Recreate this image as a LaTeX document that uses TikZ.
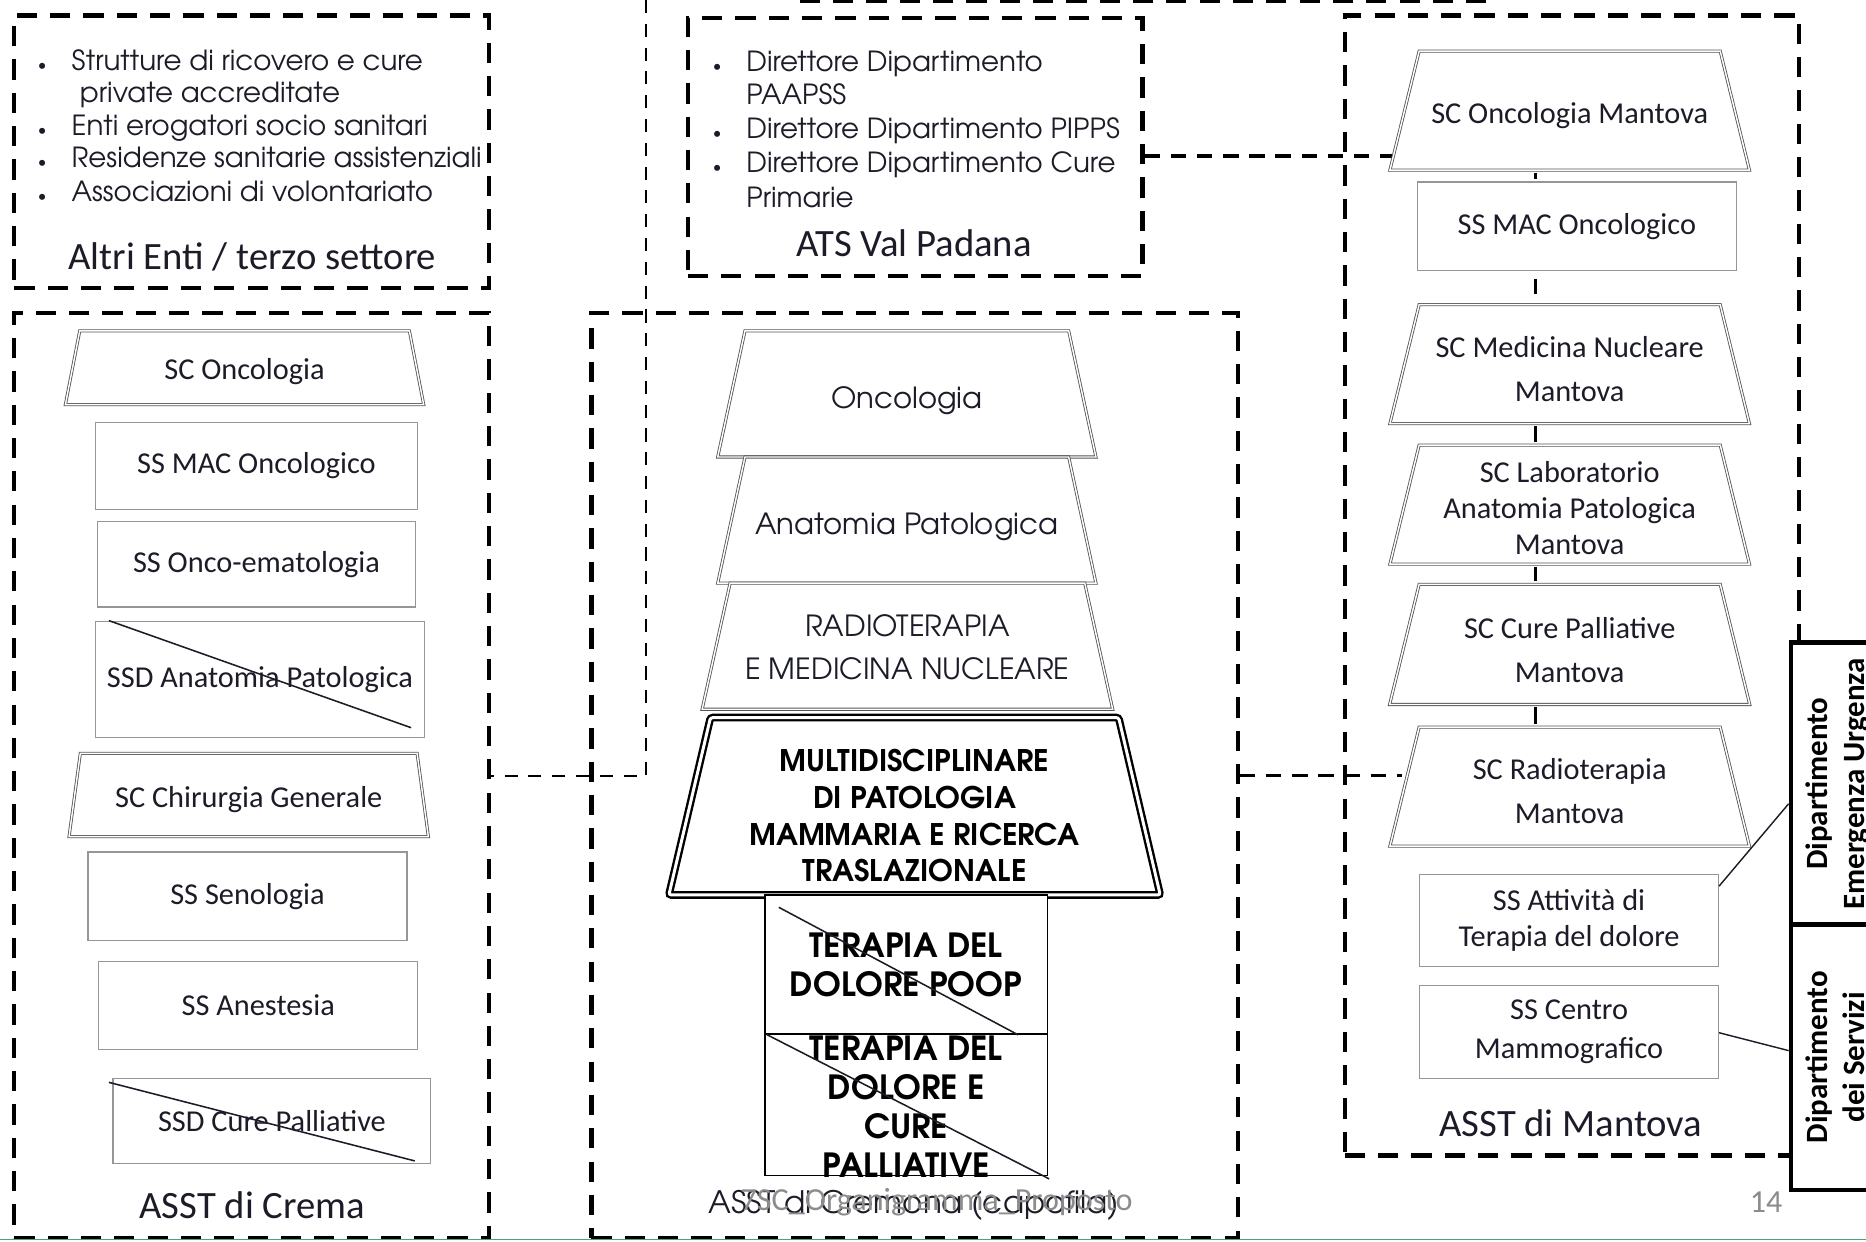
\documentclass[tikz,border=0pt]{standalone}
\usepackage{fontspec}
\setmainfont{Carlito}
\newfontfamily\gothic[Extension=.otf, UprightFont=texgyreadventor-regular, BoldFont=texgyreadventor-bold]{texgyreadventor}
\usepackage{tikz}
\usetikzlibrary{shapes.geometric, positioning, calc}
\definecolor{inkblack}{RGB}{28, 28, 40}
\definecolor{boxgray}{RGB}{150, 150, 150}
\definecolor{trapgray}{RGB}{85, 85, 85}
\definecolor{footgray}{RGB}{140, 140, 140}
\definecolor{slidegreen}{RGB}{70, 165, 125}
\newcommand{\bul}{\llap{\fontsize{14}{14}\selectfont\textbullet\hspace{21pt}}}
% empty body of a trapezium: top width, height
\newcommand{\tbody}[2]{\makebox[#1pt]{\rule{0pt}{#2pt}}}

\tikzset{
    frame/.style={draw=black, line width=3.5pt, dash pattern=on 17pt off 11pt},
    thinlink/.style={draw=black, line width=2pt, dash pattern=on 11pt off 9pt},
    link/.style={draw=black, line width=3pt, dash pattern=on 13pt off 9pt},
    stem/.style={draw=black, line width=2.5pt, shorten <=2pt, shorten >=2pt},
    dept/.style={draw=inkblack, line width=1.2pt},
    strike/.style={draw=inkblack, line width=1.3pt},
    unit/.style={draw=boxgray, line width=1pt, fill=white, align=center, inner sep=2pt,
        text=inkblack, font=\fontsize{25.5}{30}\selectfont},
    trap/.style={trapezium, draw=trapgray, double=white, double distance=1.2pt,
        line width=0.7pt, fill=white, inner sep=0pt},
    bigtrap/.style={trap, draw=black, line width=2pt, double distance=2.5pt, rounded corners=2pt},
    traptext/.style={align=center, inner sep=0pt, text=inkblack, font=\fontsize{25.5}{30}\selectfont},
    gtext/.style={traptext, font=\gothic\fontsize{24.5}{36}\selectfont},
    boldtext/.style={traptext, text=black, font=\gothic\bfseries\fontsize{25}{30.7}\selectfont},
    darkbox/.style={draw=black, line width=1.2pt, fill=white, align=center, inner sep=0pt,
        text=black, font=\gothic\bfseries\fontsize{28}{33}\selectfont},
    dipbox/.style={draw=black, line width=4pt, fill=white, inner sep=0pt, minimum width=80pt,
        text=black, font=\bfseries\fontsize{26}{31}\selectfont},
    listtext/.style={anchor=base west, inner sep=0pt, text=inkblack,
        font=\gothic\fontsize{23.3}{27}\selectfont},
    title/.style={inner sep=0pt, text=inkblack, font=\fontsize{32.5}{38}\selectfont},
    footer/.style={inner sep=0pt, text=footgray, font=\fontsize{27}{32}\selectfont}
}

\begin{document}
\begin{tikzpicture}[x=1pt, y=-1pt]
    \useasboundingbox (0,0) rectangle (1568,1043);
    \clip (0,0) rectangle (1568,1043);
    \fill[white] (0,0) rectangle (1568,1043);

    % containers
    \node[frame, minimum width=399pt, minimum height=229pt] (altri) at (211.5,127.5) {};
    \node[frame, minimum width=399pt, minimum height=777pt] (crema) at (211.5,651.5) {};
    \node[frame, minimum width=382pt, minimum height=217pt] (ats) at (769,123.5) {};
    \node[frame, minimum width=543pt, minimum height=777pt] (cremona) at (768.5,651.5) {};
    \node[frame, minimum width=382pt, minimum height=958pt] (mantova) at (1321,492) {};
    \draw[frame] (672,1) -- (1250,1);

    % links between containers
    \coordinate (top) at (543,0);
    \coordinate (knee) at (543,652);
    \coordinate (atsend) at (1171,131);
    \coordinate (rtend) at (1178,652);
    \draw[thinlink] (top) -- (knee) -- (crema.east |- knee);
    \draw[link] (ats.east |- atsend) -- (atsend);
    \draw[link, line width=2.5pt] (cremona.east |- rtend) -- (rtend);

    % Altri Enti
    \node[listtext] (altri-1) at (60,59) {\bul Strutture di ricovero e cure};
    \node[listtext] (altri-2) at (67,86) {private accreditate};
    \node[listtext] (altri-3) at (60,114) {\bul Enti erogatori socio sanitari};
    \node[listtext] (altri-4) at (60,141) {\bul Residenze sanitarie assistenziali};
    \node[listtext] (altri-5) at (60,169) {\bul Associazioni di volontariato};
    \node[title] (altri-t) at (212,216) {Altri Enti / terzo settore};

    % ATS
    \node[listtext] (ats-1) at (627,60) {\bul Direttore Dipartimento};
    \node[listtext] (ats-2) at (627,88) {PAAPSS};
    \node[listtext] (ats-3) at (627,116) {\bul Direttore Dipartimento PIPPS};
    \node[listtext] (ats-4) at (627,145) {\bul Direttore Dipartimento Cure};
    \node[listtext] (ats-5) at (627,174) {Primarie};
    \node[title] (ats-t) at (768,204) {ATS Val Padana};

    % ASST di Crema
    \node[trap, trapezium angle=79] (onc-c) at (205.5,309) {\tbody{277}{62}};
    \node[traptext] (onc-c-t) at (205.5,312.5) {SC Oncologia};
    \node[unit, minimum width=271pt, minimum height=73pt] (mac-c) at (215.5,391.5) {SS MAC Oncologico};
    \node[unit, minimum width=267pt, minimum height=72pt] (oe-c) at (215.5,474) {SS Onco-ematologia};
    \node[unit, minimum width=277pt, minimum height=98pt] (ap-c) at (218.5,571) {SSD Anatomia Patologica};
    \node[trap, trapezium angle=82.3] (chir-c) at (209,668) {\tbody{283}{70}};
    \node[traptext] (chir-c-t) at (209,672) {SC Chirurgia Generale};
    \node[unit, minimum width=268pt, minimum height=74pt] (sen-c) at (208,753) {SS Senologia};
    \node[unit, minimum width=268pt, minimum height=74pt] (an-c) at (217,845) {SS Anestesia};
    \node[unit, minimum width=267pt, minimum height=72pt] (cp-c) at (228.5,942) {SSD Cure Palliative};
    \draw[strike] ($(ap-c.north west)+(12,0)$) -- ($(ap-c.south east)+(-12,-9)$);
    \draw[strike] ($(cp-c.north west)+(-3,4)$) -- ($(cp-c.south east)+(-14,-3)$);
    \node[title] (crema-t) at (212,1013) {ASST di Crema};

    % ASST di Cremona
    \node[trap, trapezium angle=77.8] (onc-cr) at (762,331) {\tbody{272}{106}};
    \node[gtext] (onc-cr-t) at (762,337) {Oncologia};
    \node[trap, trapezium angle=77.8] (ap-cr) at (762,437) {\tbody{272}{106}};
    \node[gtext] (ap-cr-t) at (762,443) {Anatomia Patologica};
    \node[trap, trapezium angle=77.5] (rt-cr) at (762.5,543) {\tbody{298}{106}};
    \node[gtext] (rt-cr-t) at (762.5,544) {RADIOTERAPIA\\E MEDICINA NUCLEARE};
    \node[bigtrap, trapezium angle=76.8] (multi) at (768.5,677.5) {\tbody{343}{149}};
    \node[boldtext] (multi-t) at (768.5,685.5) {MULTIDISCIPLINARE\\DI PATOLOGIA\\MAMMARIA E RICERCA\\TRASLAZIONALE};
    \node[darkbox, minimum width=237pt, minimum height=117pt] (tdp) at (761.5,810.5) {TERAPIA DEL\\DOLORE POOP};
    \node[darkbox, minimum width=237pt, minimum height=119pt] (tdcp) at (761.5,928.5) {};
    \node[darkbox, draw=none, fill=none] (tdcp-t) at (761.5,930) {TERAPIA DEL\\DOLORE E\\CURE\\PALLIATIVE};
    \draw[strike] ($(tdp.north west)+(12,11)$) -- ($(tdp.south east)+(-25,0)$);
    \draw[strike] ($(tdcp.north west)+(2,1)$) -- ($(tdcp.south east)+(1,2)$);
    \node[title, font=\gothic\fontsize{26}{32}\selectfont] (cremona-t) at (768,1013) {ASST di Cremona (capofila)};

    % ASST di Mantova
    \node[trap, trapezium angle=76.2] (onco-m) at (1319,93) {\tbody{253}{100}};
    \node[traptext] (onco-m-t) at (1319,97) {SC Oncologia Mantova};
    \node[unit, minimum width=268pt, minimum height=74pt] (mac-m) at (1325,190) {SS MAC Oncologico};
    \node[trap, trapezium angle=76.2] (med-m) at (1319,306) {\tbody{253}{100}};
    \node[traptext] (med-m-t) at (1319,310) {SC Medicina Nucleare\\[7pt]Mantova};
    \node[trap, trapezium angle=76.2] (lab-m) at (1319,424) {\tbody{253}{100}};
    \node[traptext] (lab-m-t) at (1319,427) {SC Laboratorio\\Anatomia Patologica\\Mantova};
    \node[trap, trapezium angle=76.2] (cp-m) at (1319,541.5) {\tbody{253}{101}};
    \node[traptext] (cp-m-t) at (1319,546.5) {SC Cure Palliative\\[7pt]Mantova};
    \node[trap, trapezium angle=76.2] (rt-m) at (1319,661) {\tbody{253}{100}};
    \node[traptext] (rt-m-t) at (1319,664.5) {SC Radioterapia\\[7pt]Mantova};
    \node[unit, minimum width=251pt, minimum height=77pt] (att-m) at (1318.5,773.5) {SS Attivit\`a di\\Terapia del dolore};
    \node[unit, minimum width=251pt, minimum height=78pt] (cen-m) at (1318.5,867) {SS Centro\\[2pt]Mammografico};
    \node[title] (mantova-t) at (1320,944) {ASST di Mantova};

    \coordinate (spine) at (1290,0);
    \draw[stem] (onco-m.south -| spine) -- (mac-m.north -| spine);
    \draw[stem, shorten <=7pt, shorten >=9pt] (mac-m.south -| spine) -- (med-m.north -| spine);
    \draw[stem] (med-m.south -| spine) -- (lab-m.north -| spine);
    \draw[stem] (lab-m.south -| spine) -- (cp-m.north -| spine);
    \draw[stem] (cp-m.south -| spine) -- (rt-m.north -| spine);

    % departments
    \node[dipbox, minimum height=237pt] (dip-eu) at (1545,658.5)
        {\rotatebox{90}{\begin{tabular}{@{}c@{}}Dipartimento\\Emergenza Urgenza\end{tabular}}};
    \node[dipbox, minimum height=223pt] (dip-s) at (1545,888.5)
        {\rotatebox{90}{\begin{tabular}{@{}c@{}}Dipartimento\\dei Servizi\end{tabular}}};
    \draw[dept] ($(att-m.north east)!0.13!(att-m.south east)$) -- ($(dip-eu.north west)!0.57!(dip-eu.south west)$);
    \draw[dept] ($(cen-m.north east)!0.51!(cen-m.south east)$) -- ($(dip-s.north west)!0.475!(dip-s.south west)$);

    % slide footer
    \node[footer] (foot) at (787,1010) {7SC\_Organigramma\_Proposto};
    \node[footer] (page) at (1484,1010) {14};
    \draw[slidegreen, line width=1.5pt] (0,1041.5) -- (1568,1041.5);
\end{tikzpicture}
\end{document}
